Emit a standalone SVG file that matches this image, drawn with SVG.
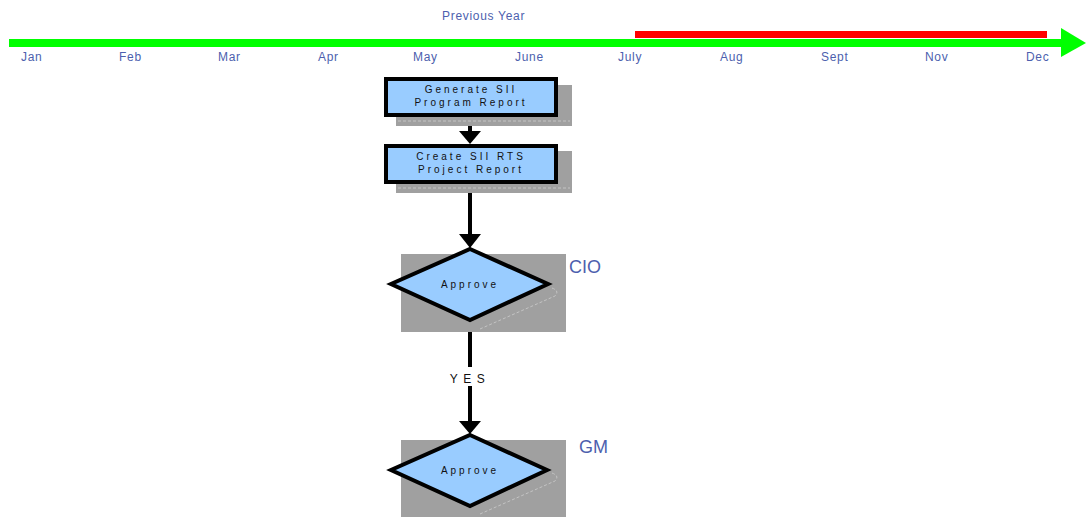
<svg xmlns="http://www.w3.org/2000/svg" width="1086" height="517" viewBox="0 0 1086 517">
  <style>
    .month { font-family: "Liberation Sans", Arial, sans-serif; font-size: 12px; fill: #4d5fae; letter-spacing: 0.7px; }
    .role { font-family: "Liberation Sans", Arial, sans-serif; font-size: 18px; fill: #4d5fae; }
    .lbl { font-family: "Liberation Sans", Arial, sans-serif; font-size: 10px; fill: #111; letter-spacing: 3px; text-anchor: middle; }
    .shadow { fill: #a0a0a0; }
    .ghost { fill: none; stroke: #c4c4c4; stroke-width: 1; stroke-dasharray: 3 2; }
    .node { fill: #99ccff; stroke: #000; stroke-width: 4; stroke-linejoin: miter; }
    .conn { stroke: #000; stroke-width: 4; fill: none; }
    .head { fill: #000; }
  </style>

  <!-- timeline -->
  <g id="timeline">
    <text class="month" x="442" y="20">Previous Year</text>
    <rect x="635" y="31" width="412" height="7" fill="#ff0000"/>
    <rect x="9" y="39" width="1054" height="8" fill="#00ff00"/>
    <polygon points="1061,28 1086,43 1061,57" fill="#00ff00"/>
    <text class="month" x="21" y="61">Jan</text>
    <text class="month" x="119" y="61">Feb</text>
    <text class="month" x="218" y="61">Mar</text>
    <text class="month" x="318" y="61">Apr</text>
    <text class="month" x="413" y="61">May</text>
    <text class="month" x="515" y="61">June</text>
    <text class="month" x="618" y="61">July</text>
    <text class="month" x="720" y="61">Aug</text>
    <text class="month" x="821" y="61">Sept</text>
    <text class="month" x="925" y="61">Nov</text>
    <text class="month" x="1026" y="61">Dec</text>
  </g>

  <!-- connectors -->
  <g id="connectors">
    <line class="conn" x1="470" y1="117" x2="470" y2="133"/>
    <polygon class="head" points="459,131 481,131 470,144"/>
    <line class="conn" x1="470" y1="184" x2="470" y2="236"/>
    <polygon class="head" points="459,234 481,234 470,248"/>
    <line class="conn" x1="470" y1="321" x2="470" y2="367"/>
    <line class="conn" x1="470" y1="386" x2="470" y2="423"/>
    <polygon class="head" points="459,421 481,421 470,434"/>
    <text class="lbl" x="470" y="383" style="font-size:12px;letter-spacing:5.5px">YES</text>
  </g>

  <!-- process: generate report -->
  <g id="generate-report">
    <rect class="shadow" x="396" y="85" width="176" height="41"/>
    <path class="ghost" d="M398,121 H570"/>
    <rect class="node" x="386" y="79" width="170" height="36"/>
    <text class="lbl" x="471" y="93">Generate SII</text>
    <text class="lbl" x="471" y="106">Program Report</text>
  </g>

  <!-- process: create project report -->
  <g id="create-report">
    <rect class="shadow" x="396" y="151" width="176" height="42"/>
    <path class="ghost" d="M398,188 H570"/>
    <rect class="node" x="386" y="146" width="170" height="36"/>
    <text class="lbl" x="471" y="160">Create SII RTS</text>
    <text class="lbl" x="471" y="173">Project Report</text>
  </g>

  <!-- decision: CIO approval -->
  <g id="cio-approve">
    <rect class="shadow" x="401" y="254" width="165" height="78"/>
    <path class="ghost" d="M480,329 L555,296 Q560,291 552,288"/>
    <polygon class="node" points="470,249 548,284 470,320 391,284"/>
    <text class="lbl" x="470" y="288">Approve</text>
    <text class="role" x="569" y="273">CIO</text>
  </g>

  <!-- decision: GM approval -->
  <g id="gm-approve">
    <rect class="shadow" x="401" y="440" width="165" height="77"/>
    <path class="ghost" d="M480,514 L555,481 Q560,476 552,473"/>
    <polygon class="node" points="470,435 547,470 470,506 391,470"/>
    <text class="lbl" x="470" y="474">Approve</text>
    <text class="role" x="579" y="453">GM</text>
  </g>
</svg>
